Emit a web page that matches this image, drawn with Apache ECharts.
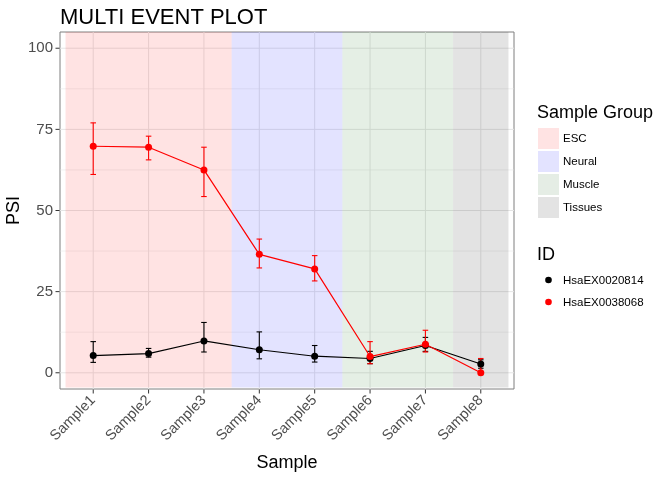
<!DOCTYPE html>
<html><head><meta charset="utf-8">
<script src="https://cdn.jsdelivr.net/npm/echarts@6/dist/echarts.min.js"></script>
<style>html,body{margin:0;padding:0;background:#fff}#c{width:672px;height:480px}</style>
</head><body><div id="c"></div>
<script>
const samples = ['Sample1','Sample2','Sample3','Sample4','Sample5','Sample6','Sample7','Sample8'];
const sampleGroup = ['ESC','ESC','ESC','Neural','Neural','Muscle','Muscle','Tissues'];
const groupNames = ['ESC','Neural','Muscle','Tissues'];
const groupColors = ['rgba(255,0,0,0.11)','rgba(0,0,255,0.11)','rgba(0,100,0,0.1)','rgba(0,0,0,0.11)'];
const groupKeyColors = ['#ffe3e3','#e3e3ff','#e5ede5','#e3e3e3'];
const ids = ['HsaEX0020814','HsaEX0038068'];
const idColors = ['#000000','#ff0000'];
const psiBlack  = [5.3, 5.9, 9.8, 7.1, 5.1, 4.4, 8.4, 2.7];
const lowBlack  = [3.2, 4.8, 6.4, 4.3, 3.3, 2.8, 6.6, 1.4];
const highBlack = [9.6, 7.5, 15.5, 12.6, 8.4, 6.6, 10.9, 4.0];
const psiRed    = [69.8, 69.5, 62.5, 36.5, 32.0, 5.0, 8.8, 0.0];
const lowRed    = [61.1, 65.6, 54.3, 32.3, 28.3, 2.8, 6.4, 0.0];
const highRed   = [77.0, 72.9, 69.5, 41.2, 36.1, 9.6, 13.1, 4.4];
const yTicks = [0, 25, 50, 75, 100];
const yMinorTicks = [12.5, 37.5, 62.5, 87.5];

const xPos = samples.map((s, i) => i + 1);
const FONT = 'Liberation Sans, Arial, sans-serif';
const X_MIN = 0.4, X_MAX = 8.6, Y_MIN = -5, Y_MAX = 105;

// group rectangles from sample membership
const rects = [];
sampleGroup.forEach((g, i) => {
  const last = rects[rects.length - 1];
  if (last && last[0] === g) last[2] = i + 1.5;
  else rects.push([g, i + 0.5, i + 1.5]);
});

const chart = echarts.init(document.getElementById('c'), null, {renderer: 'canvas'});

function errRender(color) {
  return function (params, api) {
    const x = api.value(0), lo = api.value(1), hi = api.value(2);
    const a = api.coord([x, lo]), b = api.coord([x, hi]);
    const w = api.size([0.1, 0])[0] / 2;
    const st = {stroke: color, lineWidth: 1.1};
    return {type: 'group', children: [
      {type: 'line', shape: {x1: a[0], y1: a[1], x2: b[0], y2: b[1]}, style: st},
      {type: 'line', shape: {x1: a[0] - w, y1: a[1], x2: a[0] + w, y2: a[1]}, style: st},
      {type: 'line', shape: {x1: b[0] - w, y1: b[1], x2: b[0] + w, y2: b[1]}, style: st}
    ]};
  };
}

const gridData = [];
yTicks.forEach(v => gridData.push(['h', v, 1]));
yMinorTicks.forEach(v => gridData.push(['h', v, 0.5]));
xPos.forEach(v => gridData.push(['v', v, 1]));

const tickData = [];
yTicks.forEach(v => tickData.push(['h', v]));
xPos.forEach(v => tickData.push(['v', v]));

const option = {
  animation: false,
  grid: {left: 60, right: 158, top: 32, bottom: 91, outerBoundsMode: 'none', containLabel: false,
    show: true, backgroundColor: '#fff', borderColor: '#7f7f7f', borderWidth: 1, z: 0},
  title: {text: 'MULTI EVENT PLOT', left: 55, top: 2, textStyle: {fontFamily: FONT, fontSize: 22, fontWeight: 'normal', color: '#000'}},
  xAxis: {
    type: 'value', min: X_MIN, max: X_MAX,
    name: 'Sample', nameLocation: 'middle', nameGap: 65, nameMoveOverlap: false,
    nameTextStyle: {fontFamily: FONT, fontSize: 18, color: '#000'},
    axisLine: {show: false, onZero: false},
    splitLine: {show: false},
    axisTick: {show: false},
    axisLabel: {customValues: xPos, rotate: 45, margin: 9, fontFamily: FONT, fontSize: 14.5, color: '#4d4d4d',
      formatter: v => samples[Math.round(v) - 1]}
  },
  yAxis: {
    type: 'value', min: Y_MIN, max: Y_MAX,
    name: 'PSI', nameLocation: 'middle', nameGap: 37, nameRotate: 90, nameMoveOverlap: false,
    nameTextStyle: {fontFamily: FONT, fontSize: 18, color: '#000'},
    axisLine: {show: false, onZero: false},
    splitLine: {show: false},
    axisTick: {show: false},
    axisLabel: {customValues: yTicks, margin: 7, fontFamily: FONT, fontSize: 15, color: '#4d4d4d'}
  },
  series: [
    {
      type: 'custom', z: 1, silent: true, clip: true,
      data: gridData,
      renderItem: function (params, api) {
        const kind = gridData[params.dataIndex][0];
        const v = api.value(1), w = api.value(2);
        let a, b;
        if (kind === 'h') { a = api.coord([X_MIN, v]); b = api.coord([X_MAX, v]); }
        else { a = api.coord([v, Y_MIN]); b = api.coord([v, Y_MAX]); }
        return {type: 'line', shape: {x1: a[0], y1: a[1], x2: b[0], y2: b[1]}, style: {stroke: '#e5e5e5', lineWidth: w}};
      }
    },
    {
      type: 'custom', z: 2, silent: true, clip: true,
      data: rects.map(r => [r[1], r[2], groupNames.indexOf(r[0])]),
      renderItem: function (params, api) {
        const a = api.coord([api.value(0), Y_MAX]);
        const b = api.coord([api.value(1), -4.5]);
        return {type: 'rect', shape: {x: a[0], y: a[1], width: b[0] - a[0], height: b[1] - a[1]},
          style: {fill: groupColors[api.value(2)]}};
      }
    },
    {
      type: 'custom', z: 6, silent: true, clip: false,
      data: tickData,
      renderItem: function (params, api) {
        const kind = tickData[params.dataIndex][0];
        const v = api.value(1);
        let p, shape;
        if (kind === 'h') { p = api.coord([X_MIN, v]); shape = {x1: p[0] - 0.5, y1: p[1], x2: p[0] - 4.5, y2: p[1]}; }
        else { p = api.coord([v, Y_MIN]); shape = {x1: p[0], y1: p[1] + 0.5, x2: p[0], y2: p[1] + 4.5}; }
        return {type: 'line', shape: shape, style: {stroke: '#333333', lineWidth: 1}};
      }
    },
    {type: 'custom', z: 3, silent: true, data: xPos.map((x, i) => [x, lowBlack[i], highBlack[i]]), renderItem: errRender('#000')},
    {type: 'custom', z: 3, silent: true, data: xPos.map((x, i) => [x, lowRed[i], highRed[i]]), renderItem: errRender('#ff0000')},
    {type: 'line', name: ids[0], z: 4, data: xPos.map((x, i) => [x, psiBlack[i]]), symbol: 'circle', symbolSize: 7,
      itemStyle: {color: '#000'}, lineStyle: {color: '#000', width: 1.2}},
    {type: 'line', name: ids[1], z: 5, data: xPos.map((x, i) => [x, psiRed[i]]), symbol: 'circle', symbolSize: 7,
      itemStyle: {color: '#ff0000'}, lineStyle: {color: '#ff0000', width: 1.2}}
  ],
  graphic: []
};

// legends
const g = [];
g.push({type: 'text', left: 537, top: 104, style: {text: 'Sample Group', font: '18px ' + FONT, fill: '#000'}});
groupNames.forEach((n, i) => {
  g.push({type: 'rect', shape: {x: 538, y: 128 + i * 23, width: 21, height: 21}, style: {fill: groupKeyColors[i]}});
  g.push({type: 'text', x: 563, y: 138.5 + i * 23, style: {text: n, font: '11.5px ' + FONT, fill: '#000', textVerticalAlign: 'middle'}});
});
g.push({type: 'text', left: 537, top: 246, style: {text: 'ID', font: '18px ' + FONT, fill: '#000'}});
ids.forEach((n, i) => {
  g.push({type: 'circle', shape: {cx: 548.5, cy: 280 + i * 22, r: 3.3}, style: {fill: idColors[i]}});
  g.push({type: 'text', x: 563, y: 280.5 + i * 22, style: {text: n, font: '11.5px ' + FONT, fill: '#000', textVerticalAlign: 'middle'}});
});
option.graphic = g;
chart.setOption(option);
</script></body></html>
